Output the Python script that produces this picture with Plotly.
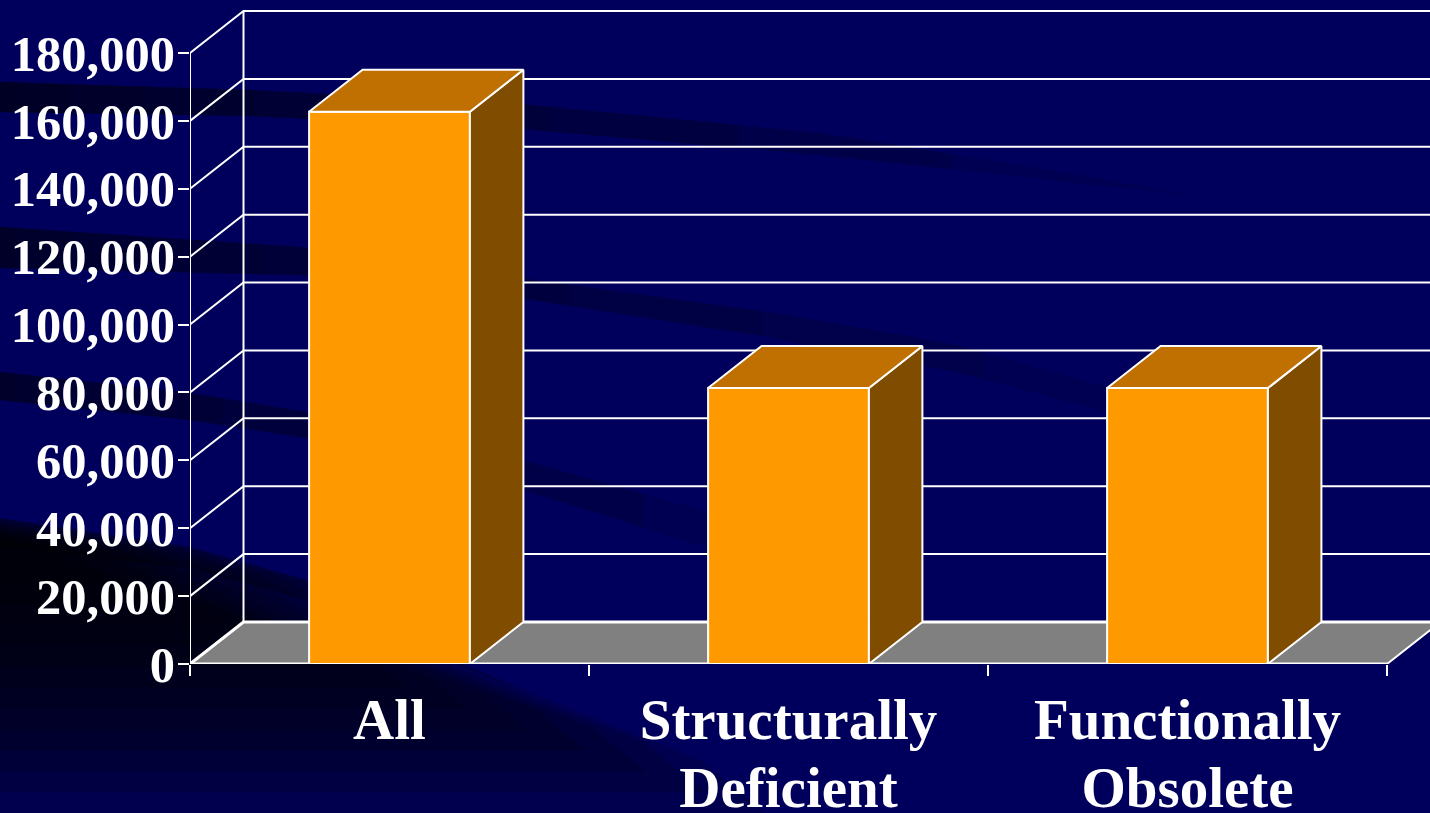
import plotly.graph_objects as go

# ---- data ----
category_lines = [["All"], ["Structurally", "Deficient"], ["Functionally", "Obsolete"]]
bridges = [162700, 81300, 81300]
y_ticks = [0, 20000, 40000, 60000, 80000, 100000, 120000, 140000, 160000, 180000]
slot_edges = [0, 1, 2, 3]

# ---- page and projection settings ----
W, H = 1430, 813
ML, MR, MT, MB = 190, 0, 8, 149
SLOT_PX = 399.0
Y_PX_PER_UNIT = 611.0 / 180000
DEPTH_X = 53.5 / SLOT_PX
DEPTH_Y = 42.0 / Y_PX_PER_UNIT
BAR_W = 0.403
x_range = [0, (W - ML - MR) / SLOT_PX]
y_range = [0, (H - MT - MB) / Y_PX_PER_UNIT]
centers = [i + 0.5 for i in range(len(category_lines))]

WHITE = "#FFFFFF"
FRONT, TOP, SIDE, FLOOR = "#FF9900", "#BF7000", "#804D00", "#808080"
NAVY = "#00005C"
FONT = "Liberation Serif"
X_LABEL_PX = 57
ticktext = ["<br>".join(f"<span style='font-size:{X_LABEL_PX}px'>{t}</span>" for t in lines)
            for lines in category_lines]


def to_paper(pt):
    px, py = pt
    return (px - ML) / (W - ML - MR), 1 - (py - MT) / (H - MT - MB)


def bg_shape(points, color, opacity):
    coords = [to_paper(p) for p in points]
    path = "M " + " L ".join(f"{x:.5f},{y:.5f}" for x, y in coords) + " Z"
    return dict(type="path", xref="paper", yref="paper", path=path, fillcolor=color,
                opacity=opacity, line=dict(width=0), layer="below")


def interp(xs, ys, x):
    for i in range(len(xs) - 1):
        if xs[i] <= x <= xs[i + 1]:
            t = (x - xs[i]) / (xs[i + 1] - xs[i])
            return ys[i] + t * (ys[i + 1] - ys[i])
    return ys[-1]


def fading_streak(xs, top, bot, layers, alpha):
    """Nested dark crescents: the overlap makes the streak fade to the right."""
    out = []
    for k in range(1, layers + 1):
        xend = xs[-1] * (k / layers) ** 1.9
        inner = [x for x in xs if x < xend]
        pts = [(x, interp(xs, top, x)) for x in inner] + [(xend, interp(xs, top, xend))]
        pts += [(xend, interp(xs, bot, xend))] + [(x, interp(xs, bot, x)) for x in reversed(inner)]
        out.append(bg_shape(pts, "#000018", alpha))
    return out


shapes = []
shapes += fading_streak([0, 250, 510, 820, 1050, 1190], [82, 90, 103, 133, 170, 195],
                        [112, 116, 128, 155, 180, 195], 9, 0.14)
shapes += fading_streak([0, 300, 520, 775, 957, 1100, 1230], [227, 247, 278, 313, 345, 385, 430],
                        [268, 275, 298, 338, 372, 410, 430], 9, 0.13)
shapes += fading_streak([0, 190, 306, 523, 700, 830], [372, 393, 412, 460, 510, 590],
                        [400, 420, 438, 490, 545, 590], 8, 0.15)

corner = [(0, 518), (190, 547), (306, 580), (465, 665), (574, 710), (700, 760), (765, 813), (0, 813)]
band = [(0, 518), (190, 547), (306, 580), (465, 665), (520, 690), (306, 600), (190, 568), (0, 547)]
shapes.append(bg_shape(band, "#000020", 0.45))
anchor = (0, 545)
for i in range(12):
    s = 1 - i * 0.078
    shapes.append(bg_shape([(anchor[0] + s * (x - anchor[0]), anchor[1] + s * (y - anchor[1]))
                            for x, y in corner], "#000000", 0.15))

fig = go.Figure()


def line_trace(xs, ys, width=2):
    return go.Scatter(x=xs, y=ys, mode="lines", line=dict(color=WHITE, width=width),
                      hoverinfo="skip", showlegend=False)


# floor
fig.add_trace(go.Scatter(
    x=[0, slot_edges[-1], slot_edges[-1] + DEPTH_X, DEPTH_X, 0],
    y=[0, 0, DEPTH_Y, DEPTH_Y, 0],
    mode="lines", fill="toself", fillcolor=FLOOR, line=dict(color=WHITE, width=2),
    hoverinfo="skip", showlegend=False))

# back-wall gridlines and the diagonals to the front axis
for v in y_ticks:
    fig.add_trace(line_trace([0, DEPTH_X, x_range[1]], [v, v + DEPTH_Y, v + DEPTH_Y],
                             width=3 if v == 0 else 2))

# axis lines
fig.add_trace(line_trace([0, 0], [0, y_ticks[-1]]))
fig.add_trace(line_trace([DEPTH_X, DEPTH_X], [DEPTH_Y, y_ticks[-1] + DEPTH_Y]))
fig.add_trace(line_trace([0, slot_edges[-1]], [0, 0], width=3))

# bars: front faces
fig.add_trace(go.Bar(x=centers, y=bridges, width=BAR_W, xaxis="x2", yaxis="y2",
                     marker=dict(color=FRONT, line=dict(color=WHITE, width=2)),
                     hoverinfo="skip", showlegend=False))

# bars: side and top faces, projected from the same values
for c, v in zip(centers, bridges):
    l, r = c - BAR_W / 2, c + BAR_W / 2
    fig.add_trace(go.Scatter(
        x=[r, r + DEPTH_X, r + DEPTH_X, r, r], y=[0, DEPTH_Y, v + DEPTH_Y, v, 0],
        mode="lines", fill="toself", fillcolor=SIDE, line=dict(color=WHITE, width=2),
        xaxis="x2", yaxis="y2", hoverinfo="skip", showlegend=False))
    fig.add_trace(go.Scatter(
        x=[l, r, r + DEPTH_X, l + DEPTH_X, l], y=[v, v, v + DEPTH_Y, v + DEPTH_Y, v],
        mode="lines", fill="toself", fillcolor=TOP, line=dict(color=WHITE, width=2),
        xaxis="x2", yaxis="y2", hoverinfo="skip", showlegend=False))

fig.update_layout(
    width=W, height=H, margin=dict(l=ML, r=MR, t=MT, b=MB, pad=0, autoexpand=False),
    paper_bgcolor=NAVY, plot_bgcolor="rgba(0,0,0,0)", showlegend=False, shapes=shapes,
    xaxis=dict(range=x_range, showgrid=False, zeroline=False, showline=False, automargin=False,
               tickmode="array", tickvals=centers, ticktext=ticktext, ticks="",
               ticklabelstandoff=21,
               tickfont=dict(family=FONT, size=52.5, color=WHITE, weight=700),
               minor=dict(ticks="outside", tickmode="array", tickvals=slot_edges, ticklen=11,
                          tickwidth=2, tickcolor=WHITE, showgrid=False)),
    yaxis=dict(range=y_range, showgrid=False, zeroline=False, showline=False, automargin=False,
               tickmode="array", tickvals=y_ticks, tickformat=",", ticks="outside", ticklen=11,
               tickwidth=2, tickcolor=WHITE, ticklabelstandoff=-7,
               tickfont=dict(family=FONT, size=50.5, color=WHITE, weight=700)),
    xaxis2=dict(range=x_range, overlaying="x", visible=False),
    yaxis2=dict(range=y_range, overlaying="y", visible=False),
)

fig.write_html("out.html", config=dict(displayModeBar=False),
               post_script="document.body.style.margin='0';")
